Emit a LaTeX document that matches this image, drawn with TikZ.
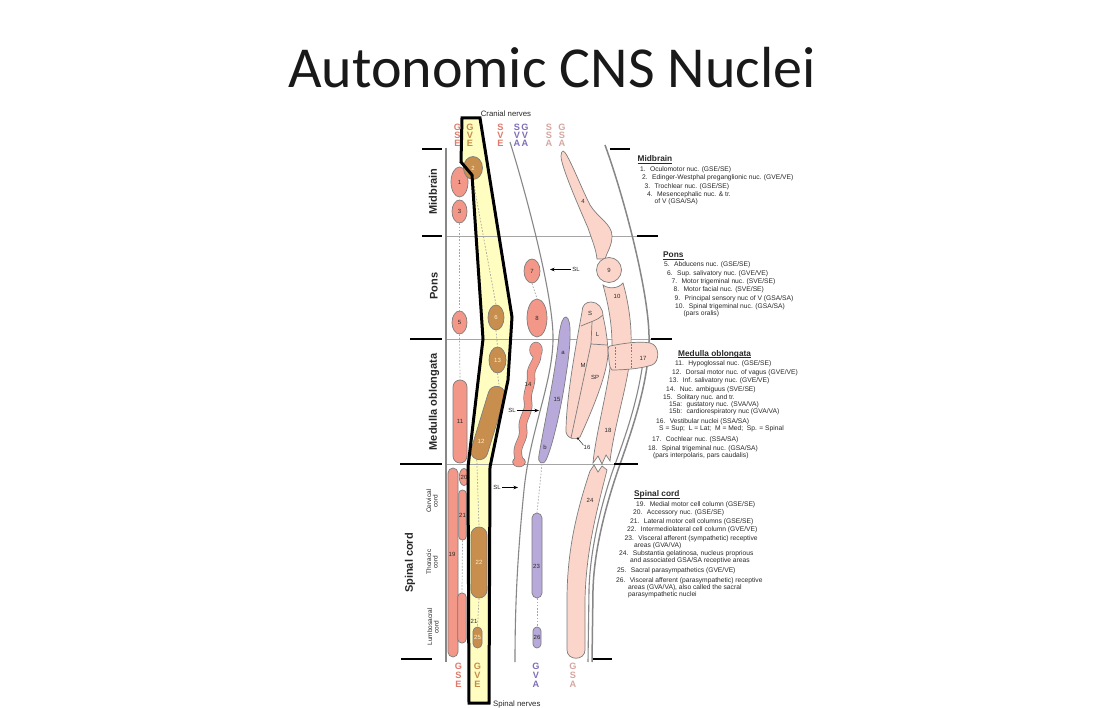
\documentclass[tikz,border=0pt]{standalone}
\usepackage{fontspec}
\setmainfont{Liberation Sans}
\newfontfamily\titlefont{Carlito}
\usetikzlibrary{shapes.geometric,arrows.meta}
\definecolor{gsec}{RGB}{243,152,137}
\definecolor{gvec}{RGB}{200,142,78}
\definecolor{gvac}{RGB}{183,169,217}
\definecolor{gsac}{RGB}{251,213,201}
\definecolor{outl}{RGB}{125,125,125}
\definecolor{bline}{RGB}{135,135,135}
\definecolor{lvl}{RGB}{165,165,165}
\definecolor{band}{RGB}{255,253,192}
\definecolor{gvelbl}{RGB}{255,243,205}
\definecolor{gsel}{RGB}{222,122,108}
\definecolor{gvel}{RGB}{196,140,72}
\definecolor{gval}{RGB}{128,110,182}
\definecolor{gsal}{RGB}{214,166,160}
\definecolor{txt}{RGB}{40,40,40}
\begin{document}
\begin{tikzpicture}[x=1pt,y=-1pt,
  nuc/.style={draw=outl, line width=0.7pt, inner sep=0pt, font=\fontsize{6}{6}\selectfont, text=txt},
  gsen/.style={nuc, fill=gsec},
  gven/.style={nuc, fill=gvec, text=gvelbl},
  gvan/.style={nuc, fill=gvac},
  gsan/.style={nuc, fill=gsac},
  shp/.style={draw=outl, line width=0.7pt},
  gsaf/.style={shp, fill=gsac},
  gvaf/.style={shp, fill=gvac},
  capsule/.style={rectangle, rounded corners=#1},
  conn/.style={draw=lvl, line width=0.7pt, dash pattern=on 1.6pt off 1.6pt},
  lvlline/.style={draw=lvl, line width=0.8pt},
  bdash/.style={draw=black, line width=1.8pt},
  wall/.style={draw=bline, line width=1.2pt},
  lbl/.style={inner sep=0pt, font=\fontsize{6}{6}\selectfont, text=txt},
  leg/.style={anchor=base west, inner sep=0pt, font=\fontsize{6.7}{7}\selectfont, text=txt},
  legt/.style={anchor=base west, inner sep=0pt, font=\fontsize{8.3}{9}\selectfont\bfseries, text=txt},
  uline/.style={draw=txt, line width=0.55pt},
  colltr/.style={anchor=base, inner sep=0pt, font=\bfseries\fontsize{9.2}{9.2}\selectfont},
  sidelbl/.style={rotate=90, inner sep=0pt, font=\fontsize{11}{11}\selectfont\bfseries, text=txt},
  sublbl/.style={rotate=90, inner sep=0pt, align=center, font=\fontsize{6.5}{6.5}\selectfont, text=txt},
  slarr/.style={draw=black, line width=0.6pt, -{Stealth[length=4.5pt,width=3.5pt]}},
]
\useasboundingbox (0,0) rectangle (1104,708);
\fill[white] (0,0) rectangle (1104,708);

% title
\node[font=\titlefont\fontsize{58}{58}\selectfont, text=black!90, anchor=base] (title) at (552,88) {Autonomic CNS Nuclei};

% highlighted GVE band (fill)
\fill[band] (462,118) -- (480,118) -- (512,317) -- (508,380) -- (490,467) -- (489,703) -- (469,703) -- (468,467) -- (483,339) -- (472,175) -- (461,162) -- cycle;

% level lines
\draw[lvlline] (446,236) -- (637,236);
\draw[lvlline] (446,339) -- (651,339);
\draw[lvlline] (446,464) -- (614,464);

% walls
\draw[wall, line width=1.3pt] (446,148) -- (446,662);
\draw[wall, line width=1.1pt] (510,142) .. controls (525,190) and (552,290) .. (553,335) .. controls (554,380) and (530,430) .. (524,490) .. controls (518,550) and (515,600) .. (515,662);
\draw[wall, line width=1.5pt] (605,145) .. controls (625,200) and (648,290) .. (649,335) .. controls (650,380) and (632,430) .. (618,470) .. controls (606,505) and (594,550) .. (593,590) -- (592,662);
\draw[wall, line width=1.1pt] (643,362) .. controls (637,405) and (624,440) .. (613,470) .. controls (601,505) and (590,550) .. (589,590) -- (588,662);

% GSA / SSA column shapes
\draw[gsaf] (563,151) .. controls (567,151) and (580,185) .. (590,205) .. controls (598,218) and (612,224) .. (612,236) .. controls (612,246) and (607,252) .. (605,259) -- (597,259) .. controls (596,249) and (592,240) .. (588,228) .. controls (578,205) and (561,166) .. (561,156) .. controls (561,153) and (562,151) .. (563,151) -- cycle;
\draw[gsaf] (603,285) .. controls (608,289) and (618,289) .. (623,283) .. controls (628,300) and (632,325) .. (631,345) .. controls (630,380) and (615,420) .. (610,461) -- (606,455) -- (602,464) -- (598,456) -- (593,463) .. controls (596,430) and (612,375) .. (612,345) .. controls (612,320) and (607,300) .. (603,285) -- cycle;
\draw[gsaf] (590,471) -- (594,465) -- (598,472) -- (602,466) -- (607,470) .. controls (597,510) and (586,550) .. (585,600) -- (585,650) .. controls (585,661) and (567,661) .. (567,650) -- (567,600) .. controls (567,550) and (577,510) .. (590,471) -- cycle;
\node[gsan, circle, minimum size=25] (n9) at (609,270) {9};
% vestibular 16
\draw[gsaf] (582,312) .. controls (582,305) and (586,302) .. (591,302) .. controls (598,302) and (603,308) .. (603,316) .. controls (605,325) and (607,335) .. (608,350) .. controls (609,372) and (590,415) .. (580,437) .. controls (576,440) and (568,440) .. (566,432) .. controls (566,400) and (575,350) .. (582,312) -- cycle;
\draw[shp] (581,326) .. controls (590,322) and (598,320) .. (603,315);
\draw[shp] (592,322) -- (591,344) -- (607,345);
\draw[shp] (591,344) -- (571,438);
% cochlear 17
\draw[gsaf] (610,346) .. controls (625,343) and (640,341) .. (650,343) .. controls (660,345) and (660,362) .. (652,365) .. controls (640,369) and (622,370) .. (612,370) .. controls (609,368) and (609,360) .. (608,350) .. controls (608,347) and (609,346) .. (610,346) -- cycle;
\draw[conn, draw=outl] (615,347) -- (615,369);
\draw[conn, draw=outl] (631,344) -- (631,369);

% solitary 15
\draw[gvaf] (566,317) .. controls (572,318) and (571,345) .. (566,375) .. controls (561,410) and (552,448) .. (546,460) .. controls (543,466) and (537,463) .. (539,455) .. controls (545,420) and (556,370) .. (559,335) .. controls (561,322) and (563,317) .. (566,317) -- cycle;

% nucleus ambiguus 14 (wavy)
\fill[outl] (536,350) ellipse [x radius=6.7, y radius=8.2];
\draw[outl, line width=8.4pt, line cap=round] (537,352) .. controls (539,362) and (530,366) .. (531,376) .. controls (532,386) and (526,392) .. (528,402) .. controls (530,412) and (521,419) .. (523,429) .. controls (525,439) and (516,445) .. (518,455) -- (519,460);
\fill[outl] (519,462) ellipse [x radius=6.7, y radius=5.2];
\fill[gsec] (536,350) ellipse [x radius=6, y radius=7.5];
\draw[gsec, line width=7pt, line cap=round] (537,352) .. controls (539,362) and (530,366) .. (531,376) .. controls (532,386) and (526,392) .. (528,402) .. controls (530,412) and (521,419) .. (523,429) .. controls (525,439) and (516,445) .. (518,455) -- (519,460);
\fill[gsec] (519,462) ellipse [x radius=6, y radius=4.5];

% GSE nuclei
\node[gsen, ellipse, minimum width=17, minimum height=30] (n1) at (459.5,182) {1};
\node[gsen, ellipse, minimum width=15, minimum height=23] (n3) at (459.5,211.5) {3};
\node[gsen, ellipse, minimum width=15, minimum height=23] (n5) at (459.5,322.5) {5};
\node[gsen, capsule=7, minimum width=14, minimum height=83] (n11) at (460,421.5) {11};
\node[gsen, capsule=5, minimum width=10, minimum height=189] (n19) at (453,562.5) {};
\node[gsen, ellipse, minimum width=9, minimum height=17] (n20) at (464,477) {20};
\node[gsen, capsule=3.6, minimum width=7.5, minimum height=50] (n21a) at (462.5,515) {21};
\node[gsen, capsule=4, minimum width=8.5, minimum height=50] (n21b) at (462,618) {};
% SVE nuclei
\node[gsen, ellipse, minimum width=16, minimum height=24] (n7) at (532,271) {7};
\node[gsen, ellipse, minimum width=20, minimum height=38] (n8) at (537,318) {8};
% GVE nuclei
\node[gven, ellipse, minimum width=19, minimum height=23] (n2) at (473,168) {2};
\node[gven, ellipse, minimum width=16, minimum height=25] (n6) at (496,317.5) {6};
\node[gven, ellipse, minimum width=17, minimum height=26] (n13) at (497.5,360) {13};
\node[gven, capsule=8.4, minimum width=17, minimum height=76, rotate=-17] (n12) at (488,423) {};
\node[gven, capsule=8, minimum width=16, minimum height=71] (n22) at (479,562.5) {22};
\node[gven, capsule=4.5, minimum width=9, minimum height=21] (n25) at (477.5,637.5) {25};
% GVA nuclei
\node[gvan, capsule=5, minimum width=10, minimum height=85] (n23) at (537,555.5) {};
\node[gvan, capsule=4, minimum width=8, minimum height=21] (n26) at (537,637.5) {26};

% dashed column connectors
\draw[conn] (n3.south) -- (n5.north);
\draw[conn] (n5.south) -- (n11.north);
\draw[conn] (n21a.south) -- (n21b.north);
\draw[conn] (n2.south) -- (n6.north);
\draw[conn] (n6.south) -- (n13.north);
\draw[conn] (n13.south) -- (n12.north);
\draw[conn] (n12.south) -- (n22.north);
\draw[conn] (n22.south) -- (n25.north);
\draw[conn] (n7.south) -- (n8.north);
\coordinate (c15) at (542,464);
\draw[conn] (c15) -- (n23.north);
\draw[conn] (n23.south) -- (n26.north);

% band outline
\draw[black, line width=3pt] (462,118) -- (480,118) -- (512,317) -- (508,380) -- (490,467) -- (489,703) -- (469,703) -- (468,467) -- (483,339) -- (472,175) -- (461,162) -- cycle;

% shape labels
\node[lbl, text=gvelbl] (l12) at (481,441) {12};
\node[lbl] (l19) at (452,554) {19};
\node[lbl] (l23) at (536.5,566) {23};
\node[lbl] (l21b) at (474,621) {21};
\node[lbl] (l4) at (583,201) {4};
\node[lbl] (l10) at (617,296) {10};
\node[lbl] (l14) at (528,384) {14};
\node[lbl] (l15) at (557,399) {15};
\node[lbl] (la) at (563,353) {a};
\node[lbl] (lb) at (545,447) {b};
\node[lbl] (lS) at (590,313) {S};
\node[lbl] (lL) at (597.5,334) {L};
\node[lbl] (lM) at (583,365) {M};
\node[lbl] (lSP) at (595,377) {SP};
\node[lbl] (l16) at (587,447.5) {16};
\node[lbl] (l17) at (643,358) {17};
\node[lbl] (l18) at (608,430) {18};
\node[lbl] (l24) at (590,500) {24};
\coordinate (c16) at (577,437.5);
\draw[draw=black, line width=0.4pt, -{Stealth[length=2.5pt,width=2pt]}] (l16.north west) -- (c16);

% sulcus limitans arrows
\node[lbl, inner sep=1pt] (sl1) at (576,269.5) {SL};
\coordinate (sl1t) at (550,269.5);
\draw[slarr] (sl1.west) -- (sl1t);
\node[lbl, inner sep=1pt] (sl2) at (512,410.5) {SL};
\coordinate (sl2t) at (539,410.5);
\draw[slarr] (sl2.east) -- (sl2t);
\node[lbl, inner sep=1pt] (sl3) at (497,487.5) {SL};
\coordinate (sl3t) at (518,487.5);
\draw[slarr] (sl3.east) -- (sl3t);

% column letters
\foreach \x/\a/\b/\c/\col [count=\i] in {457.5/G/S/E/gsel,470/G/V/E/gvel,500.5/S/V/E/gsel,517/S/V/A/gval,525/G/V/A/gval,549/S/S/A/gsal,562/G/S/A/gsal}{
  \node[colltr, text=\col] (ta\i) at (\x,130.5) {\a};
  \node[colltr, text=\col] (tb\i) at (\x,138.5) {\b};
  \node[colltr, text=\col] (tc\i) at (\x,146.5) {\c};
}
\foreach \x/\a/\b/\c/\col [count=\i] in {458.5/G/S/E/gsel,477.5/G/V/E/gvel,536/G/V/A/gval,573/G/S/A/gsal}{
  \node[colltr, text=\col] (ba\i) at (\x,669.5) {\a};
  \node[colltr, text=\col] (bb\i) at (\x,678.5) {\b};
  \node[colltr, text=\col] (bc\i) at (\x,687.5) {\c};
}
\node[font=\fontsize{7.8}{8}\selectfont, text=txt, anchor=base, inner sep=0pt] (cranial) at (506,116.5) {Cranial nerves};
\node[font=\fontsize{7.8}{8}\selectfont, text=txt, anchor=base west, inner sep=0pt] (spinaln) at (493,706) {Spinal nerves};

% black level dashes
\draw[bdash] (422,149) -- (442,149);  \draw[bdash] (610,149) -- (630,149);
\draw[bdash] (422,236) -- (442,236);  \draw[bdash] (637,236) -- (658,236);
\draw[bdash] (410,339) -- (442,339);  \draw[bdash] (651,339) -- (672,339);
\draw[bdash] (400,464) -- (442,464);  \draw[bdash] (614,464) -- (638,464);
\draw[bdash] (401,659) -- (432,659);  \draw[bdash] (593,659) -- (612,659);

% side labels
\node[sidelbl] (sMid) at (433,191.5) {Midbrain};
\node[sidelbl] (sPons) at (434,286) {Pons};
\node[sidelbl] (sMed) at (434,402) {Medulla oblongata};
\node[sidelbl] (sSpin) at (410,563) {Spinal cord};
\node[sublbl] (sCerv) at (432,501) {Cervical\\cord};
\node[sublbl] (sThor) at (432,562) {Thoracic\\cord};
\node[sublbl] (sLumb) at (433,627) {Lumbosacral\\cord};

% legend: midbrain
\node[legt] (hMid) at (637.5,162) {Midbrain};
\draw[uline] ([yshift=-1.2pt]hMid.base west) -- ([yshift=-1.2pt]hMid.base east);
\node[leg] (m1) at (640,171.4) {1.~ Oculomotor nuc. (GSE/SE)};
\node[leg] (m2) at (642,179.4) {2.~ Edinger-Westphal preganglionic nuc. (GVE/VE)};
\node[leg] (m3) at (644.5,188.4) {3.~ Trochlear nuc. (GSE/SE)};
\node[leg] (m4) at (647,196.4) {4.~ Mesencephalic nuc. \& tr.};
\node[leg] (m4b) at (654.5,203.4) {of V (GSA/SA)};
% pons
\node[legt] (hPons) at (663,258) {Pons};
\draw[uline] ([yshift=-1.2pt]hPons.base west) -- ([yshift=-1.2pt]hPons.base east);
\node[leg] (p5) at (664,266.4) {5.~ Abducens nuc. (GSE/SE)};
\node[leg] (p6) at (667,275.4) {6.~ Sup. salivatory nuc. (GVE/VE)};
\node[leg] (p7) at (671.5,283.4) {7.~ Motor trigeminal nuc. (SVE/SE)};
\node[leg] (p8) at (673.5,291.4) {8.~ Motor facial nuc. (SVE/SE)};
\node[leg] (p9) at (674.5,300.4) {9.~ Principal sensory nuc of V (GSA/SA)};
\node[leg] (p10) at (675,308.4) {10.~ Spinal trigeminal nuc. (GSA/SA)};
\node[leg] (p10b) at (683.5,315.4) {(pars oralis)};
% medulla
\node[legt] (hMed) at (678,356.5) {Medulla oblongata};
\draw[uline] ([yshift=-1.2pt]hMed.base west) -- ([yshift=-1.2pt]hMed.base east);
\node[leg] (q11) at (675,366) {11.~ Hypoglossal nuc. (GSE/SE)};
\node[leg] (q12) at (672,374.5) {12.~ Dorsal motor nuc. of vagus (GVE/VE)};
\node[leg] (q13) at (669,383) {13.~ Inf. salivatory nuc. (GVE/VE)};
\node[leg] (q14) at (666,391.5) {14.~ Nuc. ambiguus (SVE/SE)};
\node[leg] (q15) at (663,399.5) {15.~ Solitary nuc. and tr.};
\node[leg] (q15a) at (669,406.5) {15a:~ gustatory nuc. (SVA/VA)};
\node[leg] (q15b) at (669,413.5) {15b:~ cardiorespiratory nuc (GVA/VA)};
\node[leg] (q16) at (656,424) {16.~ Vestibular nuclei (SSA/SA)};
\node[leg] (q16b) at (659,431) {S = Sup;~ L = Lat;~ M = Med;~ Sp. = Spinal};
\node[leg] (q17) at (652,441.5) {17.~ Cochlear nuc. (SSA/SA)};
\node[leg] (q18) at (648,450.5) {18.~ Spinal trigeminal nuc. (GSA/SA)};
\node[leg] (q18b) at (653,457.5) {(pars interpolaris, pars caudalis)};
% spinal cord
\node[legt] (hSpin) at (634,497) {Spinal cord};
\draw[uline] ([yshift=-1.2pt]hSpin.base west) -- ([yshift=-1.2pt]hSpin.base east);
\node[leg] (r19) at (636,506.4) {19.~ Medial motor cell column (GSE/SE)};
\node[leg] (r20) at (633,515) {20.~ Accessory nuc. (GSE/SE)};
\node[leg] (r21) at (630,523.4) {21.~ Lateral motor cell columns (GSE/SE)};
\node[leg] (r22) at (627,532) {22.~ Intermediolateral cell column (GVE/VE)};
\node[leg] (r23) at (624.5,540.4) {23.~ Visceral afferent (sympathetic) receptive};
\node[leg] (r23b) at (634,547.4) {areas (GVA/VA)};
\node[leg] (r24) at (619,555.4) {24.~ Substantia gelatinosa, nucleus proprious};
\node[leg] (r24b) at (630,562.4) {and associated GSA/SA receptive areas};
\node[leg] (r25) at (617,572.4) {25.~ Sacral parasympathetics (GVE/VE)};
\node[leg] (r26) at (616,583) {26.~ Visceral afferent (parasympathetic) receptive};
\node[leg] (r26b) at (628,590) {areas (GVA/VA), also called the sacral};
\node[leg] (r26c) at (628,597) {parasympathetic nuclei};
\end{tikzpicture}
\end{document}
